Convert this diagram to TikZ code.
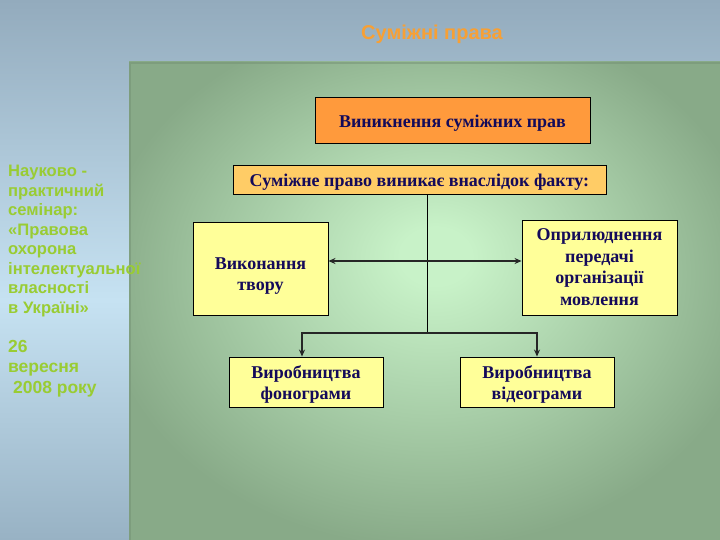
\documentclass[tikz,border=0pt]{standalone}
\usepackage{fontspec}
\setmainfont{Liberation Serif}
\newfontfamily\sansf{Liberation Sans}
\usetikzlibrary{arrows.meta}
\definecolor{bgtop}{HTML}{93ABBD}
\definecolor{bgmid}{HTML}{C6E2F2}
\definecolor{bgbot}{HTML}{98B2C4}
\definecolor{gin}{HTML}{C8F2C8}
\definecolor{gout}{HTML}{88AA88}
\definecolor{boxorange}{HTML}{FF9A3C}
\definecolor{boxlight}{HTML}{FFCC66}
\definecolor{boxyellow}{HTML}{FFFF99}
\definecolor{navy}{HTML}{140A5A}
\definecolor{titleorange}{HTML}{F7A035}
\definecolor{leafgreen}{HTML}{99CC33}
\newcommand{\lowtext}[2]{\raisebox{-#1}[\height][\depth]{\begin{tabular}{@{}c@{}}#2\end{tabular}}}
\pgfdeclareradialshading{gpanel}{\pgfpoint{1bp}{5bp}}{color(0bp)=(gin); color(3bp)=(gin); color(28bp)=(gout); color(50bp)=(gout)}
\tikzset{
  box/.style={draw=black, line width=0.9pt, text=navy, align=center, inner sep=0pt,
    font=\bfseries\fontsize{18}{21.5}\selectfont},
  conn/.style={line width=1.3pt, draw=black!85},
  tip/.style={-{Stealth[length=7pt,width=6pt]}},
}
\begin{document}
\begin{tikzpicture}[x=1pt,y=-1pt]
\useasboundingbox (0,0) rectangle (720,540);
% background
\fill[top color=bgtop, bottom color=bgmid] (0,0) rectangle (720,300);
\fill[top color=bgmid, bottom color=bgbot] (0,300) rectangle (720,540);
% green panel
\shade[shading=gpanel] (129,62) rectangle (720,540);
\draw[gout!85!black, line width=1.5pt, opacity=0.5] (130,540) -- (130,63) -- (720,63);
% title
\node[text=titleorange, font=\sansf\bfseries\fontsize{20}{24}\selectfont] (title) at (432,34) {Суміжні права};
% left text
\node[anchor=north west, align=left, text=leafgreen, inner sep=0pt,
  font=\sansf\bfseries\fontsize{16.6}{19.5}\selectfont] (seminar) at (8,165)
  {Науково -\\практичний\\семінар:\\«Правова\\охорона\\інтелектуальної\\власності\\в Україні»};
\node[anchor=north west, align=left, text=leafgreen, inner sep=0pt,
  font=\sansf\bfseries\fontsize{17.5}{20.5}\selectfont] (date) at (8,340)
  {26\\вересня\\\ 2008 року};
% boxes
\node[box, fill=boxorange, minimum width=275, minimum height=46] (top) at (452.5,120) {\lowtext{3pt}{Виникнення суміжних прав}};
\node[box, fill=boxlight, minimum width=373, minimum height=29] (fact) at (419.5,179.5) {\lowtext{2.5pt}{Суміжне право виникає внаслідок факту:}};
\node[box, fill=boxyellow, minimum width=135, minimum height=93] (vyk) at (260.5,268.5) {\lowtext{7pt}{Виконання\\твору}};
\node[box, fill=boxyellow, minimum width=155, minimum height=95] (opr) at (599.5,267.5) {\lowtext{1pt}{Оприлюднення\\передачі\\організації\\мовлення}};
\node[box, fill=boxyellow, minimum width=154, minimum height=50] (fon) at (306,382) {\lowtext{2.5pt}{Виробництва\\фонограми}};
\node[box, fill=boxyellow, minimum width=154, minimum height=50] (vid) at (537,382) {\lowtext{2.5pt}{Виробництва\\відеограми}};
% connectors
\coordinate (j) at (427,333);
\coordinate (h) at (427,261);
\draw[line width=0.8pt, black] (fact.south -| j) -- (j);
\draw[line width=2pt, draw=black!85, {Stealth[length=7pt,width=6pt]}-{Stealth[length=7pt,width=6pt]}] (vyk.east |- h) -- (opr.west |- h);
\draw[conn, tip] (j) -| ([xshift=-4pt]fon.north);
\draw[conn, tip] (j) -| (vid.north);
\end{tikzpicture}
\end{document}
